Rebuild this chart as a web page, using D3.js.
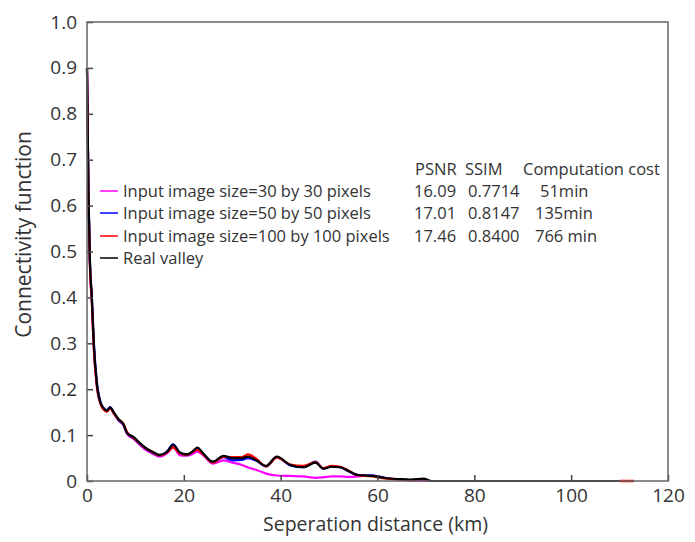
<!DOCTYPE html>
<html>
<head>
<meta charset="utf-8">
<script src="https://cdn.jsdelivr.net/npm/d3@7"></script>
<style>
  body { margin: 0; background: #fff; }
  text { font-family: "Open Sans", "Noto Sans", sans-serif; fill: #333; }
</style>
</head>
<body>
<div id="container"></div>
<script>
// separation distance (km), shared by every series
const dist = [0, 0.3, 0.6, 1.0, 1.4, 2.0, 2.8, 3.5, 4.1, 4.8, 5.5, 6.5, 7.5, 8.3, 9.6, 11, 12, 13.5, 15, 16.5,
  17.8, 19.2, 20.6, 22, 22.8, 24, 26, 28.2, 30, 32, 33.2, 35, 37, 39.2, 42, 44.7, 47.2, 48.8, 50.5, 52.3,
  54, 56, 59, 62, 65, 67, 69.5, 71, 80, 90, 100, 110, 113];

const realValley = [0.90, 0.63, 0.48, 0.40, 0.30, 0.215, 0.17, 0.158, 0.153, 0.160, 0.150, 0.135, 0.124, 0.104, 0.096, 0.082, 0.073, 0.064, 0.057, 0.063,
  0.079, 0.062, 0.058, 0.066, 0.073, 0.060, 0.042, 0.055, 0.050, 0.050, 0.053, 0.045, 0.033, 0.053, 0.035, 0.030, 0.040, 0.027, 0.031, 0.030,
  0.022, 0.013, 0.011, 0.006, 0.004, 0.003, 0.005, 0.000, 0, 0, 0, 0, null];

const size100 = [0.90, 0.62, 0.47, 0.39, 0.29, 0.21, 0.168, 0.155, 0.151, 0.158, 0.148, 0.134, 0.125, 0.106, 0.094, 0.081, 0.072, 0.063, 0.056, 0.062,
  0.073, 0.060, 0.057, 0.064, 0.068, 0.058, 0.040, 0.053, 0.052, 0.052, 0.058, 0.048, 0.032, 0.051, 0.036, 0.033, 0.041, 0.028, 0.033, 0.031,
  0.023, 0.012, 0.010, 0.005, 0.003, 0.002, 0.004, 0.000, 0, 0, 0, 0, 0];

const size50 = [0.90, 0.63, 0.48, 0.40, 0.305, 0.22, 0.172, 0.158, 0.154, 0.161, 0.149, 0.133, 0.123, 0.105, 0.093, 0.080, 0.072, 0.062, 0.056, 0.064,
  0.080, 0.061, 0.057, 0.065, 0.070, 0.059, 0.041, 0.052, 0.045, 0.046, 0.050, 0.044, 0.032, 0.052, 0.034, 0.030, 0.042, 0.027, 0.032, 0.030,
  0.021, 0.013, 0.012, 0.006, 0.003, 0.002, 0.004, 0.000, 0, null, null, null, null];

const size30 = [0.90, 0.62, 0.47, 0.39, 0.29, 0.21, 0.168, 0.156, 0.152, 0.159, 0.148, 0.132, 0.122, 0.102, 0.092, 0.078, 0.069, 0.060, 0.053, 0.060,
  0.074, 0.056, 0.055, 0.060, 0.064, 0.056, 0.038, 0.045, 0.040, 0.035, 0.030, 0.024, 0.016, 0.012, 0.011, 0.010, 0.007, 0.008, 0.010, 0.010,
  0.009, 0.010, 0.012, 0.006, 0.003, 0.001, 0.001, 0.000, null, null, null, null, null];

const seriesNames = ["Input image size=30 by 30 pixels", "Input image size=50 by 50 pixels",
  "Input image size=100 by 100 pixels", "Real valley"];
const seriesColors = ["#ff00ff", "#0000ff", "#ff0000", "#000000"];
const psnr = ["16.09", "17.01", "17.46"];
const ssim = ["0.7714", "0.8147", "0.8400"];
const cost = ["51min", "135min", "766 min"];

const xTicks = [0, 20, 40, 60, 80, 100, 120];
const yTicks = [0, 0.1, 0.2, 0.3, 0.4, 0.5, 0.6, 0.7, 0.8, 0.9, 1.0];

const W = 695, H = 542;
const margin = { top: 22, right: 27, bottom: 61, left: 87 };
const width = W - margin.left - margin.right;
const height = H - margin.top - margin.bottom;

const svg = d3.select("#container").append("svg")
    .attr("width", W)
    .attr("height", H);
const g = svg.append("g")
    .attr("transform", `translate(${margin.left},${margin.top})`);

const x = d3.scaleLinear().domain([0, 120]).range([0, width]);
const y = d3.scaleLinear().domain([0, 1]).range([height, 0]);

// curves, drawn before the frame
const line = d3.line()
    .defined(d => d[1] !== null)
    .x(d => x(d[0]))
    .y(d => y(d[1]))
    .curve(d3.curveMonotoneX);

const allSeries = [size30, size50, size100, realValley];
allSeries.forEach((vals, i) => {
    g.append("path")
        .datum(dist.map((k, j) => [k, vals[j]]))
        .attr("fill", "none")
        .attr("stroke", seriesColors[i])
        .attr("stroke-width", 2.2)
        .attr("stroke-linejoin", "round")
        .attr("d", line);
});

// red tail that shows past the black one
g.append("path")
    .datum(dist.map((k, j) => [k, k >= 110 ? size100[j] : null]))
    .attr("fill", "none")
    .attr("stroke", seriesColors[2])
    .attr("stroke-width", 2.5)
    .attr("d", line);

// axes with inward ticks
const xAxis = g.append("g")
    .attr("transform", `translate(0,${height})`)
    .call(d3.axisBottom(x).tickValues(xTicks).tickSize(-6).tickPadding(8).tickFormat(d3.format("d")));
const yAxis = g.append("g")
    .call(d3.axisLeft(y).tickValues(yTicks).tickSize(-6).tickPadding(10)
        .tickFormat(d => d === 0 ? "0" : d3.format(".1f")(d)));

[xAxis, yAxis].forEach(a => {
    a.select(".domain").remove();
    a.selectAll(".tick line").attr("stroke", "#444").attr("stroke-width", 1.5);
    a.selectAll(".tick text").style("font-size", "19px").attr("fill", "#333");
});

g.append("rect")
    .attr("width", width)
    .attr("height", height)
    .attr("fill", "none")
    .attr("stroke", "#666")
    .attr("stroke-width", 1.5);

// axis titles
svg.append("text")
    .attr("x", margin.left + width / 2 - 2)
    .attr("y", 531)
    .attr("text-anchor", "middle")
    .style("font-size", "19.5px")
    .text("Seperation distance (km)");

svg.append("text")
    .attr("transform", `translate(31,${margin.top + height / 2 - 17}) rotate(-90)`)
    .attr("text-anchor", "middle")
    .style("font-size", "21px")
    .text("Connectivity function");

// legend with table
const legend = svg.append("g");
const rowY = [191, 213, 236, 258];
const fs = "16.5px";

legend.append("text").attr("x", 415).attr("y", 175).style("font-size", fs).text("PSNR");
legend.append("text").attr("x", 465).attr("y", 175).style("font-size", fs).text("SSIM");
legend.append("text").attr("x", 523).attr("y", 175).style("font-size", fs).text("Computation cost");

seriesNames.forEach((name, i) => {
    legend.append("line")
        .attr("x1", 100).attr("x2", 118)
        .attr("y1", rowY[i]).attr("y2", rowY[i])
        .attr("stroke", seriesColors[i])
        .attr("stroke-width", 1.5);
    legend.append("text")
        .attr("x", 123).attr("y", rowY[i] + 6)
        .style("font-size", fs)
        .text(name);
    if (i < 3) {
        legend.append("text").attr("x", 414).attr("y", rowY[i] + 6).style("font-size", fs).text(psnr[i]);
        legend.append("text").attr("x", 468).attr("y", rowY[i] + 6).style("font-size", fs).text(ssim[i]);
        legend.append("text").attr("x", i === 0 ? 540 : 535).attr("y", rowY[i] + 6).style("font-size", fs).text(cost[i]);
    }
});
</script>
</body>
</html>
